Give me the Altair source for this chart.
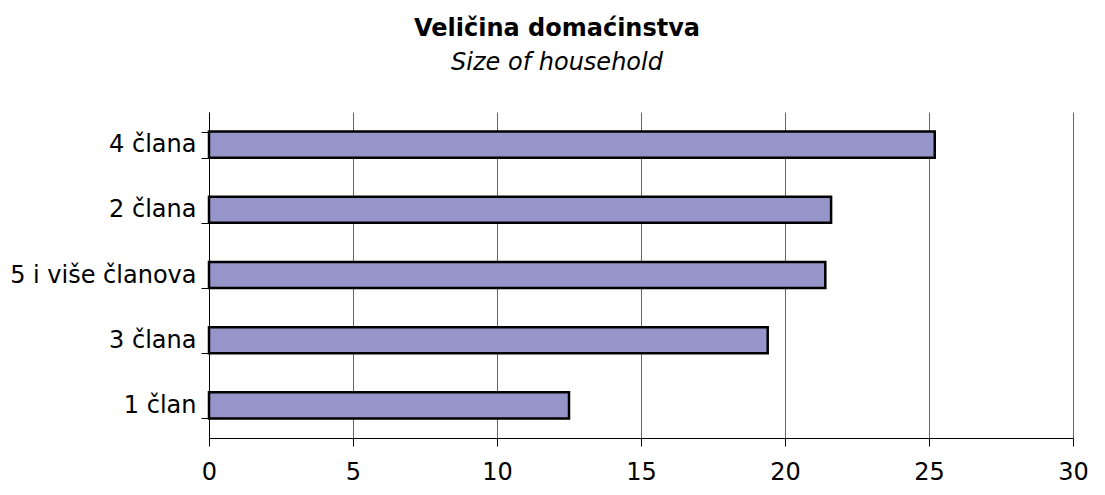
import altair as alt
import pandas as pd

categories = ["4 člana", "2 člana", "5 i više članova", "3 člana", "1 član"]
values = [25.2, 21.6, 21.4, 19.4, 12.5]
x_ticks = [0, 5, 10, 15, 20, 25, 30]

df = pd.DataFrame({"cat": categories, "val": values})

FONT = "DejaVu Sans"

chart = (
    alt.Chart(df)
    .mark_bar(color="#9595c9", stroke="#000000", strokeWidth=2.5)
    .encode(
        x=alt.X(
            "val:Q",
            scale=alt.Scale(domain=[0, 30], nice=False, zero=True),
            axis=alt.Axis(
                values=x_ticks,
                title=None,
                grid=True,
                gridColor="#666666",
                gridWidth=1,
                domainColor="#000000",
                domainWidth=1,
                tickColor="#000000",
                tickSize=8,
                labelFont=FONT,
                labelFontSize=24,
                labelColor="#000000",
                labelPadding=14,
                labelFlush=False,
            ),
        ),
        y=alt.Y(
            "cat:N",
            sort=categories,
            scale=alt.Scale(paddingInner=0.6, paddingOuter=0.3),
            axis=alt.Axis(
                title=None,
                tickBand="extent",
                domainColor="#000000",
                domainWidth=1,
                tickColor="#000000",
                tickSize=8,
                labelFont=FONT,
                labelFontSize=24,
                labelColor="#000000",
                labelPadding=5,
                labelLimit=0,
            ),
        ),
    )
    .properties(
        width=864,
        height=326,
        autosize=alt.AutoSizeParams(type="none"),
        padding={"left": 201, "top": 104, "right": 20, "bottom": 49},
        title=alt.TitleParams(
            text="Veličina domaćinstva",
            subtitle="Size of household",
            anchor="middle",
            frame="group",
            dx=-84,
            offset=25,
            font=FONT,
            fontSize=24,
            fontWeight="bold",
            color="#000000",
            subtitleFont=FONT,
            subtitleFontSize=24,
            subtitleFontStyle="italic",
            subtitleColor="#000000",
            subtitlePadding=10,
        ),
    )
    .configure_view(stroke=None)
)

chart.save("out.html", embed_options={"renderer": "svg", "actions": False})
